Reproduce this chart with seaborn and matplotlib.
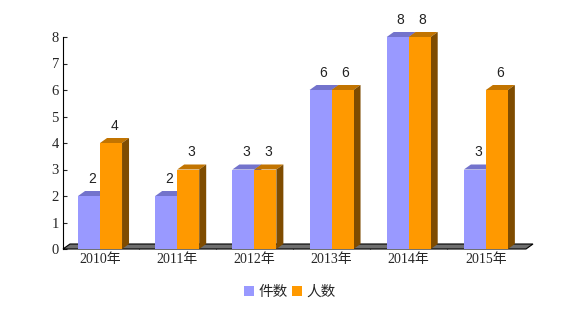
import matplotlib
matplotlib.use("Agg")
import matplotlib.pyplot as plt
import seaborn as sns
import pandas as pd
from matplotlib.patches import Polygon

years = ["2010年", "2011年", "2012年", "2013年", "2014年", "2015年"]
cases = [2, 2, 3, 6, 8, 3]
people = [4, 3, 3, 6, 8, 6]
series_names = ["件数", "人数"]

df = pd.DataFrame({
    "year": years * 2,
    "value": cases + people,
    "series": [series_names[0]] * len(years) + [series_names[1]] * len(years),
})

sns.set_style("white")
plt.rcParams['font.family'] = ['Noto Sans CJK SC', 'DejaVu Sans']

front = {"件数": "#9999ff", "人数": "#ff9900"}
top_c = {"#9999ff": "#7373cc", "#ff9900": "#c27400"}
side_c = {"#9999ff": "#5c5c99", "#ff9900": "#7f4c00"}

fig = plt.figure(figsize=(5.8, 3.31), dpi=100)
ax = fig.add_axes([63/580, 1-249/331, (526-63)/580, (249-37)/331])
sns.barplot(data=df, x="year", y="value", hue="series", palette=front,
            width=0.57, ax=ax, saturation=1, legend=True, zorder=2,
            edgecolor="none", linewidth=0)

ax.set_xlim(-0.48, 5.52)
ax.set_ylim(0, 8)
ax.set_yticks(range(0, 9))
ax.set_xlabel("")
ax.set_ylabel("")

fig.canvas.draw()
inv = ax.transData.inverted()
o = inv.transform((0, 0))
p = inv.transform((7, 5))
dx, dy = p[0] - o[0], p[1] - o[1]

bars = list(ax.patches)

# floor
x0, x1 = ax.get_xlim()
floor = Polygon([(x0, 0), (x1, 0), (x1 + dx, dy), (x0 + dx, dy)], closed=True,
                facecolor="#6e6e6e", edgecolor="black", linewidth=0.8,
                zorder=1, clip_on=False)
ax.add_patch(floor)

for bar in bars:
    h = bar.get_height()
    if h <= 0:
        continue
    bx = bar.get_x()
    w = bar.get_width()
    col = matplotlib.colors.to_hex(bar.get_facecolor()).lower()
    tc = top_c.get(col, "#777777")
    sc = side_c.get(col, "#444444")
    ax.add_patch(Polygon([(bx, h), (bx + w, h), (bx + w + dx, h + dy), (bx + dx, h + dy)],
                         closed=True, facecolor=tc, edgecolor="none", zorder=1.5, clip_on=False))
    ax.add_patch(Polygon([(bx + w, 0), (bx + w + dx, dy), (bx + w + dx, h + dy), (bx + w, h)],
                         closed=True, facecolor=sc, edgecolor="none", zorder=1.5, clip_on=False))
    ax.annotate(f"{h:g}", (bx + w / 2, h), xytext=(3, 17), textcoords="offset pixels",
                ha="center", va="center", fontsize=10, color="#222222",
                family=["Liberation Sans", "DejaVu Sans"], zorder=5, annotation_clip=False)

for s in ["top", "right", "bottom"]:
    ax.spines[s].set_visible(False)
ax.spines["left"].set_color("black")
ax.spines["left"].set_linewidth(0.8)
ax.tick_params(axis="y", direction="in", length=3, width=0.8, left=True, pad=3)
ax.tick_params(axis="x", length=0, pad=3)
ax.set_xticks([i + 0.5 for i in range(len(years) - 1)], minor=True)
ax.tick_params(axis="x", which="minor", direction="in", length=3, width=0.8, bottom=True)
for lbl in ax.get_xticklabels():
    lbl.set_family(["Liberation Serif", "Noto Sans CJK SC"])
    lbl.set_fontsize(10)
for lbl in ax.get_yticklabels():
    lbl.set_family(["Liberation Serif", "DejaVu Sans"])
    lbl.set_fontsize(10.5)

leg = ax.get_legend()
handles = leg.legend_handles
leg.remove()
fig.legend(handles, series_names, loc="center", bbox_to_anchor=(0.5, 1 - 292/331),
           ncol=2, frameon=False, handlelength=0.7, handleheight=0.7,
           handletextpad=0.3, columnspacing=0.3, fontsize=10.5)

fig.savefig("out.png", dpi=100)
